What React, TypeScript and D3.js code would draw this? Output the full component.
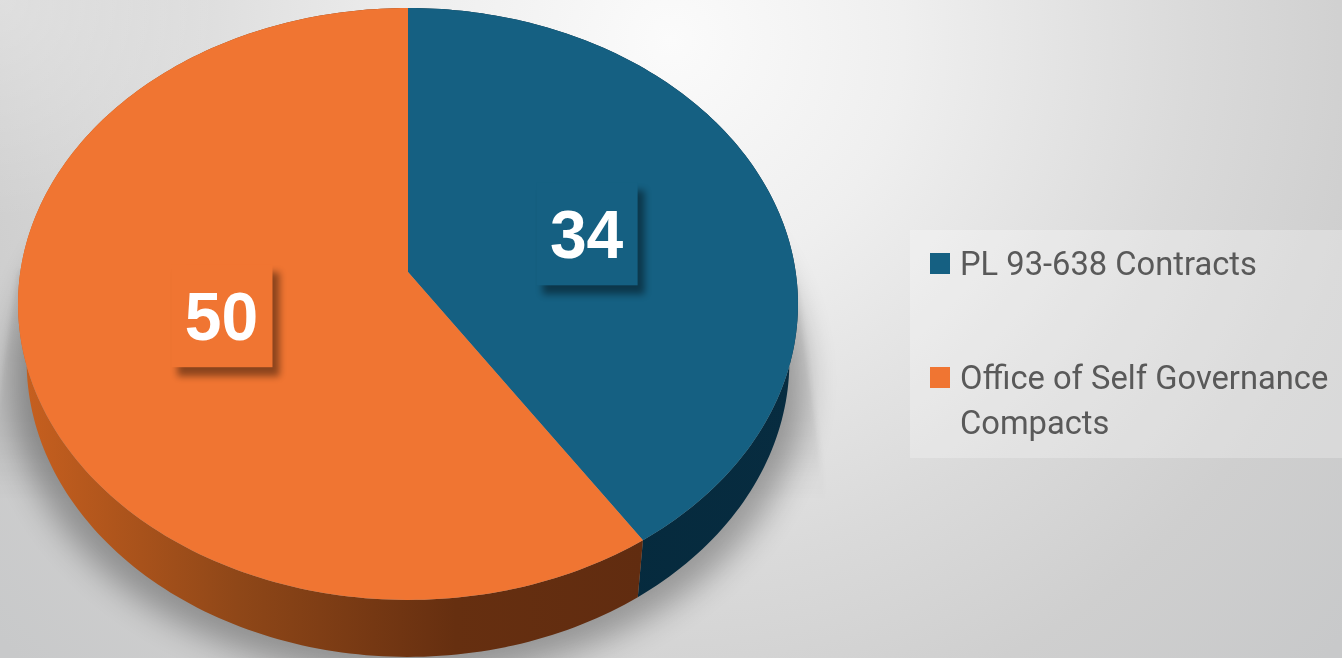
import React, { useEffect, useRef } from 'react';
import * as d3 from 'd3';

const categories = ['PL 93-638 Contracts', 'Office of Self Governance Compacts'];
const values = [34, 50];
const legendLines = [['PL 93-638 Contracts'], ['Office of Self Governance', 'Compacts']];
const topColors = ['#156082', '#f07532'];

const WIDTH = 1342;
const HEIGHT = 658;
const DEPTH = 57;

type Slice = d3.PieArcDatum<number>;

// The pie is tilted in perspective, so a flat circle maps to an off-centre ellipse
const apex = { x: 408, y: 272 };
const k = 0.108;
const a = 292.5;
const b = 387.7;

const project = (angle: number, r: number, depth = 0): [number, number] => {
  // small angle warp, the original camera isn't a perfect homography
  const t = angle - 0.0154 * Math.sin(2 * angle);
  const u = r * Math.sin(t);
  const v = -r * Math.cos(t);
  const w = 1 - k * v;
  const shrink = 1 - 0.022 * (depth / DEPTH);
  return [apex.x + (b * u * shrink) / w, apex.y + (a * v) / w + depth];
};

const arcAngles = (start: number, end: number) => {
  const n = Math.max(2, Math.ceil((end - start) / 0.02));
  return d3.range(n + 1).map(i => start + ((end - start) * i) / n);
};

const App: React.FC = () => {
  const svgRef = useRef<SVGSVGElement>(null);

  useEffect(() => {
    if (!svgRef.current) return;
    const svg = d3.select(svgRef.current);
    svg.selectAll('*').remove();

    const defs = svg.append('defs');

    const bg = defs.append('radialGradient')
      .attr('id', 'bg')
      .attr('gradientUnits', 'userSpaceOnUse')
      .attr('cx', 670).attr('cy', 40).attr('r', 900);
    bg.append('stop').attr('offset', '0%').attr('stop-color', '#fbfbfb');
    bg.append('stop').attr('offset', '26%').attr('stop-color', '#efefef');
    bg.append('stop').attr('offset', '58%').attr('stop-color', '#dadada');
    bg.append('stop').attr('offset', '78%').attr('stop-color', '#cfcfcf');
    bg.append('stop').attr('offset', '100%').attr('stop-color', '#c8c9ca');

    // top left corner is lighter than the main gradient gives
    const corner = defs.append('radialGradient')
      .attr('id', 'corner')
      .attr('gradientUnits', 'userSpaceOnUse')
      .attr('cx', 0).attr('cy', 0).attr('r', 220);
    corner.append('stop').attr('offset', '0%').attr('stop-color', '#fff').attr('stop-opacity', 0.3);
    corner.append('stop').attr('offset', '100%').attr('stop-color', '#fff').attr('stop-opacity', 0);

    const wall0 = defs.append('linearGradient').attr('id', 'wall0');
    wall0.append('stop').attr('offset', '0%').attr('stop-color', '#04283a');
    wall0.append('stop').attr('offset', '100%').attr('stop-color', '#072c40');

    const wall1 = defs.append('linearGradient').attr('id', 'wall1');
    wall1.append('stop').attr('offset', '0%').attr('stop-color', '#c8601f');
    wall1.append('stop').attr('offset', '35%').attr('stop-color', '#8f4718');
    wall1.append('stop').attr('offset', '70%').attr('stop-color', '#662f10');
    wall1.append('stop').attr('offset', '100%').attr('stop-color', '#612c10');

    const wedgeFade = defs.append('linearGradient')
      .attr('id', 'wedgeFade')
      .attr('gradientUnits', 'userSpaceOnUse')
      .attr('x1', 0).attr('y1', 280).attr('x2', 0).attr('y2', 500);
    wedgeFade.append('stop').attr('offset', '0%').attr('stop-color', '#000').attr('stop-opacity', 0.07);
    wedgeFade.append('stop').attr('offset', '70%').attr('stop-color', '#000').attr('stop-opacity', 0.06);
    wedgeFade.append('stop').attr('offset', '100%').attr('stop-color', '#000').attr('stop-opacity', 0);

    defs.append('filter').attr('id', 'blur')
      .attr('x', '-20%').attr('y', '-20%').attr('width', '140%').attr('height', '140%')
      .append('feGaussianBlur').attr('stdDeviation', 16);

    defs.append('filter').attr('id', 'wedgeBlur')
      .attr('x', '-20%').attr('y', '-20%').attr('width', '140%').attr('height', '140%')
      .append('feGaussianBlur').attr('stdDeviation', 2.5);

    defs.append('filter').attr('id', 'soft')
      .attr('x', '-30%').attr('y', '-30%').attr('width', '170%').attr('height', '170%')
      .append('feGaussianBlur').attr('stdDeviation', 3.5);

    svg.append('rect').attr('width', WIDTH).attr('height', HEIGHT).attr('fill', 'url(#bg)');
    svg.append('rect').attr('width', WIDTH).attr('height', HEIGHT).attr('fill', 'url(#corner)');

    const line = d3.line();
    const pie = d3.pie<number>().sort(null).startAngle(0).endAngle(2 * Math.PI);
    const slices: Slice[] = pie(values);

    // Faint perspective wedge behind the disc, fades out before the bottom
    const left = apex.x - 390;
    const right = apex.x + 390;
    const wedge: [number, number][] = [
      [right - 1, 285],
      [right + 24, 470],
      [right + 30, 520],
      [left - 30, 520],
      [left - 24, 430],
      [left, 270],
    ];
    svg.append('path')
      .attr('d', line(wedge) + 'Z')
      .attr('fill', 'url(#wedgeFade)')
      .attr('filter', 'url(#wedgeBlur)');

    // Soft shadow under the pie
    const rim = arcAngles(0, 2 * Math.PI);
    const shadowPts = rim.map(t => {
      const [x, y] = project(t, 1, DEPTH);
      return [apex.x + (x - apex.x) * 1.04, y + 20] as [number, number];
    });
    svg.append('path')
      .attr('d', line(shadowPts) + 'Z')
      .attr('fill', '#000')
      .attr('opacity', 0.3)
      .attr('filter', 'url(#blur)');

    // Walls
    slices.forEach((s, i) => {
      const ts = arcAngles(s.startAngle, s.endAngle);
      const pts = [
        ...ts.map(t => project(t, 1)),
        ...ts.slice().reverse().map(t => project(t, 1, DEPTH)),
      ];
      svg.append('path')
        .attr('d', line(pts) + 'Z')
        .attr('fill', `url(#wall${i})`);
    });

    // Top faces
    slices.forEach((s, i) => {
      const pts = [[apex.x, apex.y] as [number, number], ...arcAngles(s.startAngle, s.endAngle).map(t => project(t, 1))];
      svg.append('path')
        .attr('d', line(pts) + 'Z')
        .attr('fill', topColors[i]);
    });

    // Data labels, the shadow falls to the lower right of each box
    slices.forEach((s, i) => {
      const [cx, cy] = project((s.startAngle + s.endAngle) / 2, 0.494);
      const ly = apex.y + (cy - apex.y) * 0.935 + 2.6;
      const g = svg.append('g').attr('transform', `translate(${cx - 1},${ly})`);
      g.append('rect')
        .attr('x', -44).attr('y', -44)
        .attr('width', 102).attr('height', 104)
        .attr('fill', '#000').attr('opacity', 0.42)
        .attr('filter', 'url(#soft)');
      g.append('rect')
        .attr('x', -50).attr('y', -52)
        .attr('width', 101).attr('height', 103)
        .attr('fill', topColors[i]);
      g.append('text')
        .attr('text-anchor', 'middle')
        .attr('transform', 'translate(0,24) scale(1,1.04)')
        .attr('font-family', '"Liberation Sans", Arial, sans-serif')
        .attr('font-weight', 700)
        .attr('font-size', 66)
        .attr('fill', '#fff')
        .text(values[i]);
    });

    // Legend
    const legendY = [275, 389];
    svg.append('rect')
      .attr('x', 910).attr('y', 230)
      .attr('width', 432).attr('height', 228)
      .attr('fill', '#fff').attr('opacity', 0.25);
    categories.forEach((c, i) => {
      svg.append('rect')
        .attr('x', 930).attr('y', legendY[i] - 22)
        .attr('width', 20).attr('height', 21)
        .attr('fill', topColors[i]);
      const text = svg.append('text')
        .attr('font-family', 'Roboto, sans-serif')
        .attr('font-size', 32.7)
        .attr('fill', '#595959')
        .attr('aria-label', c);
      legendLines[i].forEach((l, j) => {
        text.append('tspan')
          .attr('x', 960)
          .attr('y', legendY[i] + j * 45)
          .text(l);
      });
    });
  }, []);

  return (
    <svg
      ref={svgRef}
      width={WIDTH}
      height={HEIGHT}
      viewBox={`0 0 ${WIDTH} ${HEIGHT}`}
      style={{ position: 'fixed', left: 0, top: 0, display: 'block' }}
    />
  );
};

export default App;
